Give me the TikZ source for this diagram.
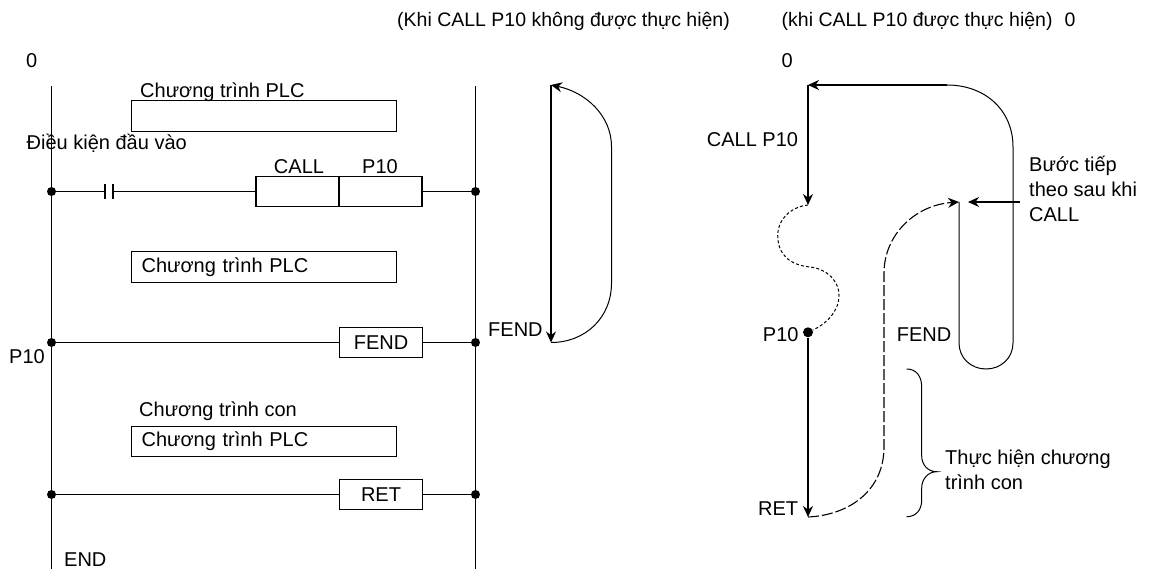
\documentclass[tikz,border=0pt]{standalone}
\usepackage{fontspec}
\setmainfont{Liberation Sans}
\usetikzlibrary{
  arrows.meta,
  positioning,
  calc
}
\tikzset{
  lbl/.style={inner sep=0pt, anchor=base west, font=\fontsize{20}{22}\selectfont},
  lblc/.style={lbl, anchor=base},
  hdr/.style={lbl, font=\fontsize{19.5}{22}\selectfont},
  multilbl/.style={inner sep=0pt, anchor=north west, align=left, font=\fontsize{20}{25}\selectfont},
  progbox/.style={draw, line width=1.3pt, minimum height=30.5pt, text width=245pt, inner xsep=10pt, inner ysep=0pt, anchor=west, font=\fontsize{20}{22}\selectfont, align=left},
  instbox/.style={draw, line width=1.3pt, minimum height=30.5pt, minimum width=83pt, inner sep=0pt, font=\fontsize{20}{22}\selectfont},
  dot/.style={circle, fill=black, inner sep=0pt, minimum size=9pt},
  rail/.style={line width=1.3pt},
  rung/.style={line width=1.4pt},
  flowline/.style={line width=1pt},
  flowarrow/.style={line width=1.3pt, -{Stealth[length=11pt, width=10pt]}},
  backarrow/.style={flowline, -{Stealth[length=11pt, width=10pt]}},
  jump/.style={line width=1pt, dash pattern=on 3pt off 2.2pt},
  subret/.style={line width=1.1pt, dash pattern=on 11pt off 3pt}
}
\begin{document}
\begin{tikzpicture}[x=1pt, y=-1pt]
  \useasboundingbox (0,0) rectangle (1158,569);
  % ladder diagram
  \coordinate (railLtop) at (51.5,86); \coordinate (railLbot) at (51.5,569);
  \coordinate (railRtop) at (475.5,86); \coordinate (railRbot) at (475.5,569);
  \draw[rail] (railLtop) -- (railLbot);
  \draw[rail] (railRtop) -- (railRbot);
  \node[dot] (inL) at (51.5,191.5) {};
  \node[dot] (inR) at (475.5,191.5) {};
  \node[dot] (fendL) at (51.5,342.5) {};
  \node[dot] (fendR) at (475.5,342.5) {};
  \node[dot] (retL) at (51.5,494.5) {};
  \node[dot] (retR) at (475.5,494.5) {};
  \node[progbox] (prog1) at (131,116) {\phantom{x}};
  \node[progbox] (prog2) at (131,267) {Chương trình PLC};
  \node[progbox] (prog3) at (131,441.5) {Chương trình PLC};
  \node[instbox] (callbox) at (297.5,191.5) {};
  \node[instbox, right=-1.3pt of callbox] (p10box) {};
  \node[instbox] (fendbox) at (381,342.5) {FEND};
  \node[instbox] (retbox) at (381,494.5) {RET};
  \coordinate (contactA) at (105,191.5);
  \coordinate (contactB) at (113,191.5);
  \draw[rung] (inL) -- (contactA);
  \draw[rung] (contactA) +(0,-7.5) -- +(0,7.5);
  \draw[rung] (contactB) +(0,-7.5) -- +(0,7.5);
  \draw[rung] (contactB) -- (callbox);
  \draw[rung] (p10box) -- (inR);
  \draw[rung] (fendL) -- (fendbox); \draw[rung] (fendbox) -- (fendR);
  \draw[rung] (retL) -- (retbox); \draw[rung] (retbox) -- (retR);
  \node[hdr] (hdrA) at (397,27) {(Khi CALL P10 không được thực hiện)};
  \node[hdr] (hdrB) at (781.5,27) {(khi CALL P10 được thực hiện)\hspace{12pt}0};
  \node[lbl] (zeroL) at (26,68) {0};
  \node[lbl] (zeroR) at (781.5,68) {0};
  \node[lbl] (progT) at (140,97.7) {Chương trình PLC};
  \node[lbl] (inLbl) at (26.5,149.3) {Điều kiện đầu vào};
  \node[lblc] (callT) at (299,174) {CALL};
  \node[lblc] (p10T) at (380,174) {P10};
  \node[lbl] (fendT) at (488,336) {FEND};
  \node[lbl] (p10L) at (9,363) {P10};
  \node[lbl] (subT) at (139,416) {Chương trình con};
  \node[lbl] (endT) at (64,566.7) {END};
  % scan without CALL
  \coordinate (scanTop) at (551,85);
  \coordinate (scanBot) at (551,342.5);
  \draw[flowarrow] (scanTop) -- (scanBot);
  \draw[backarrow] (scanBot) .. controls (585,342.5) and (611.5,318) .. (611.5,283)
    -- (611.5,146.7) .. controls (611.5,115) and (585,92) .. (scanTop);
  % scan with CALL
  \coordinate (mainTop) at (808,85);
  \coordinate (mainCall) at (808,205);
  \node[dot, minimum size=10pt] (subDot) at (808,332.3) {};
  \coordinate (mainRet) at (808,517);
  \coordinate (backTop) at (959,202);
  \coordinate (turnTop) at (947,85);
  \coordinate (nextStart) at (1020,202);
  \coordinate (nextEnd) at (968,202);
  \draw[flowarrow] (mainTop) -- (mainCall);
  \draw[flowarrow] (subDot) -- (mainRet);
  \draw[jump] (mainCall) .. controls (790,207) and (777.7,220) .. (777.7,235)
    .. controls (777.7,255) and (790,265) .. (810,267)
    .. controls (828,269) and (839,282) .. (839,295)
    .. controls (839,312) and (826,324) .. (subDot);
  \draw[flowline] (backTop) -- (959,343) .. controls (959,358) and (971,369) .. (986,369)
    .. controls (1001,369) and (1013,358) .. (1013,343)
    -- (1013,147) .. controls (1013,110) and (985,85) .. (turnTop);
  \draw[flowarrow] (turnTop) -- (mainTop);
  \draw[subret, -{Stealth[length=11pt, width=10pt]}] (mainRet) .. controls (850,515) and (884,490) .. (884,447)
    -- (884,273) .. controls (884,235) and (915,205) .. (backTop);
  \draw[flowarrow] (nextStart) -- (nextEnd);
  % brace
  \coordinate (braceTop) at (906.7,369);
  \coordinate (braceBot) at (906.7,516.7);
  \coordinate (braceTip) at (936.7,471.7);
  \draw[line width=1pt] (braceTop) .. controls (916,369) and (921.7,376) .. (921.7,387)
    -- (921.7,456) .. controls (921.7,465) and (928,471.7) .. (braceTip)
    .. controls (928,471.7) and (921.7,479) .. (921.7,488)
    -- (921.7,500) .. controls (921.7,510) and (916,516.7) .. (braceBot);
  \node[lbl] (callL) at (706.7,146.7) {CALL P10};
  \node[lbl] (p10R) at (762.7,341.7) {P10};
  \node[lbl] (fendR2) at (896.7,341.7) {FEND};
  \node[lbl] (retT) at (758,515) {RET};
  \node[multilbl] (nextT) at (1029,156) {Bước tiếp\\theo sau khi\\CALL};
  \node[multilbl] (subDo) at (945,450) {Thực hiện chương\\trình con};
\end{tikzpicture}
\end{document}
